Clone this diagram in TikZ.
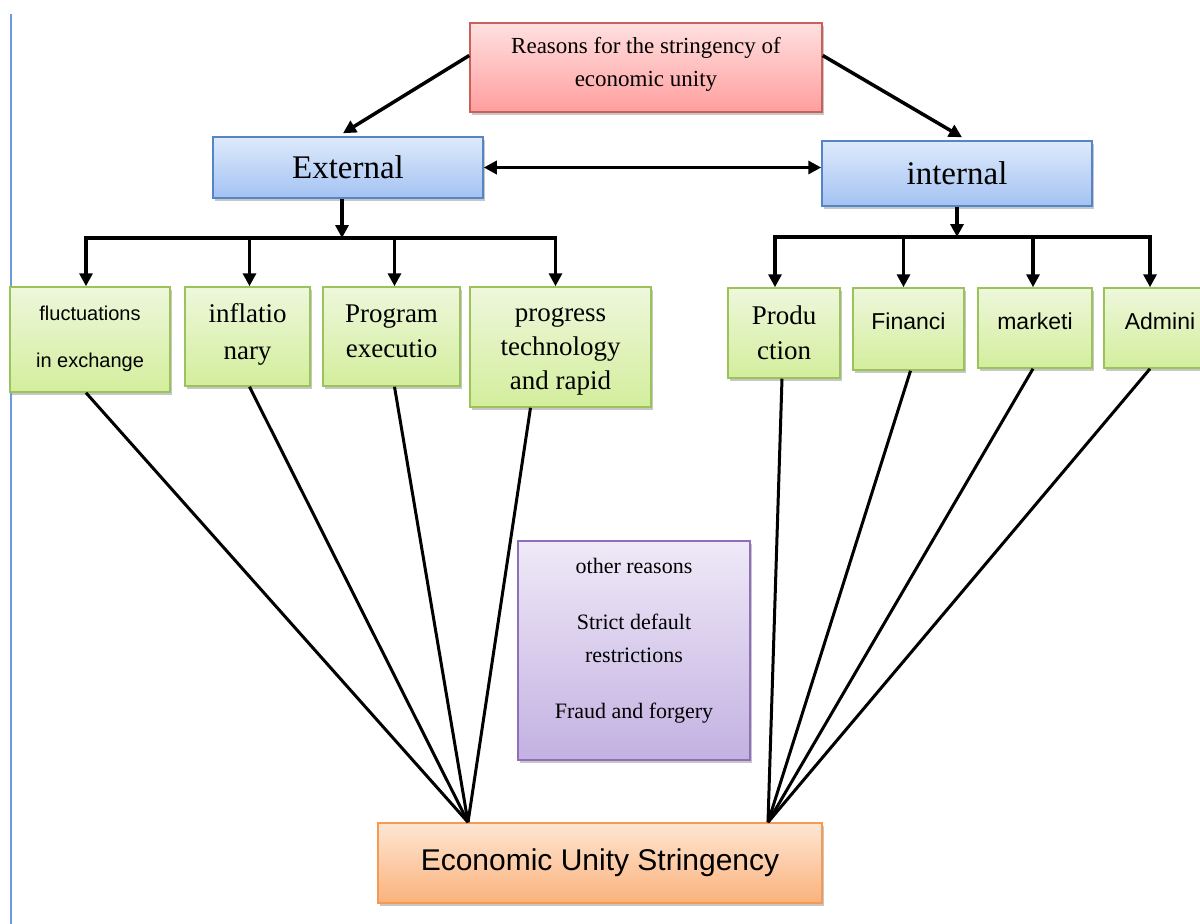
\documentclass[tikz,border=0pt]{standalone}
\usepackage{fontspec}
\setmainfont{Liberation Serif}
\setsansfont{Liberation Sans}
\usetikzlibrary{arrows.meta,shadows,calc}
\definecolor{redT}{HTML}{FFE0E0}\definecolor{redBt}{HTML}{FF9E9E}\definecolor{redD}{HTML}{C9605A}
\definecolor{bluT}{HTML}{DEEAFB}\definecolor{bluBt}{HTML}{A3C2F3}\definecolor{bluD}{HTML}{5585C7}
\definecolor{grnT}{HTML}{EEF7DC}\definecolor{grnBt}{HTML}{D3EE9C}\definecolor{grnD}{HTML}{9CC35A}
\definecolor{purT}{HTML}{EFE9F7}\definecolor{purBt}{HTML}{C3B1E2}\definecolor{purD}{HTML}{8E6FB8}
\definecolor{orT}{HTML}{FDE6D3}\definecolor{orBt}{HTML}{FBB27C}\definecolor{orD}{HTML}{F59A50}
\definecolor{leftblue}{HTML}{6D9BD9}
\newcommand{\tx}[2]{\raisebox{#1}[\height][\depth]{\begin{tabular}{@{}c@{}}#2\end{tabular}}}
\tikzset{
  box/.style={draw, line width=1.5pt, inner sep=0pt,
    drop shadow={shadow xshift=2pt,shadow yshift=-3pt,opacity=0.22,fill=black}},
  redbox/.style={box, draw=redD, top color=redT, bottom color=redBt},
  bluebox/.style={box, draw=bluD, top color=bluT, bottom color=bluBt},
  grnbox/.style={box, draw=grnD, top color=grnT, bottom color=grnBt},
  purbox/.style={box, draw=purD, top color=purT, bottom color=purBt},
  orbox/.style={box, draw=orD, top color=orT, bottom color=orBt},
  arr/.style={line width=3.5pt, -{Triangle[length=13pt,width=13pt]}},
  dblarr/.style={line width=3.5pt, {Triangle[length=13pt,width=13pt]}-{Triangle[length=13pt,width=13pt]}},
  bus/.style={line width=3.5pt, line cap=rect},
  conv/.style={line width=3pt},
}
\begin{document}
\begin{tikzpicture}[x=1pt,y=-1pt]
\useasboundingbox (0,0) rectangle (1200,924);
\fill[white] (0,0) rectangle (1200,924);
\draw[leftblue, line width=2pt] (11,14) -- (11,924);

% top
\node[redbox, minimum width=352pt, minimum height=89pt, font=\fontsize{23}{33}\selectfont] (top) at (646,67.5)
  {\tx{4pt}{Reasons for the stringency of\\economic unity}};
\node[bluebox, minimum width=270pt, minimum height=61pt, font=\fontsize{33}{40}\selectfont] (ext) at (348,167.5) {External};
\node[bluebox, minimum width=270pt, minimum height=65pt, font=\fontsize{33}{40}\selectfont] (int) at (957,173.5) {internal};

% left green boxes
\node[grnbox, minimum width=160pt, minimum height=105pt, font=\sffamily\fontsize{20}{47}\selectfont] (b1) at (90,339.5)
  {\tx{5pt}{fluctuations\\in exchange}};
\node[grnbox, minimum width=125pt, minimum height=99pt, font=\fontsize{27}{37}\selectfont] (b2) at (247.5,336.5)
  {\tx{3pt}{inflatio\\nary}};
\node[grnbox, minimum width=137pt, minimum height=99pt, font=\fontsize{27}{35}\selectfont] (b3) at (391.5,336.5)
  {\tx{4pt}{Program\\executio}};
\node[grnbox, minimum width=181pt, minimum height=120pt, font=\fontsize{27}{34}\selectfont] (b4) at (560.5,347)
  {\tx{-2pt}{progress\\technology\\and rapid}};

% right green boxes
\node[grnbox, minimum width=112pt, minimum height=90pt, font=\fontsize{27}{35}\selectfont] (r1) at (784,333)
  {\tx{-2pt}{Produ\\ction}};
\node[grnbox, minimum width=111pt, minimum height=82pt, font=\sffamily\fontsize{23}{26}\selectfont] (r2) at (908.5,329)
  {\tx{5pt}{Financi}};
\node[grnbox, minimum width=114pt, minimum height=80pt, font=\sffamily\fontsize{23}{26}\selectfont] (r3) at (1035,328)
  {\tx{4pt}{marketi}};
\node[grnbox, minimum width=112pt, minimum height=80pt, font=\sffamily\fontsize{23}{26}\selectfont] (r4) at (1160,328)
  {\tx{4pt}{Admini}};

% purple
\node[purbox, minimum width=232pt, minimum height=219pt, font=\fontsize{22}{33}\selectfont] (pur) at (634,650.5)
  {\tx{11pt}{other reasons\\[23pt]Strict default\\restrictions\\[23pt]Fraud and forgery}};

% bottom
\node[orbox, minimum width=444pt, minimum height=80pt, font=\sffamily\fontsize{30}{35}\selectfont] (econ) at (600,863)
  {Economic Unity Stringency};

% connectors top
\draw[arr] ([yshift=12pt]top.west) -- ([xshift=-5pt,yshift=3pt]ext.north);
\draw[arr] ([yshift=12pt]top.east) -- ([xshift=5pt,yshift=3pt]int.north);
\draw[dblarr] (ext.east) -- (ext.east -| int.west);

% buses
\coordinate (busL) at (0,238);
\coordinate (busR) at (0,237);
\draw[arr] ([xshift=-6pt]ext.south) -- ([xshift=-6pt]ext.south |- busL);
\draw[bus] ([xshift=-4pt]b1.north |- busL) -- ([xshift=-5pt]b4.north |- busL);
\draw[arr] ([xshift=-4pt]b1.north |- busL) -- ([xshift=-4pt]b1.north);
\draw[arr] ([xshift=2pt]b2.north |- busL) -- ([xshift=2pt]b2.north);
\draw[arr] ([xshift=3pt]b3.north |- busL) -- ([xshift=3pt]b3.north);
\draw[arr] ([xshift=-5pt]b4.north |- busL) -- ([xshift=-5pt]b4.north);
\draw[arr] (int.south) -- (int.south |- busR);
\draw[bus] ([xshift=-9pt]r1.north |- busR) -- ([xshift=-10pt]r4.north |- busR);
\draw[arr] ([xshift=-9pt]r1.north |- busR) -- ([xshift=-9pt]r1.north);
\draw[arr] ([xshift=-5pt]r2.north |- busR) -- ([xshift=-5pt]r2.north);
\draw[arr] ([xshift=-2pt]r3.north |- busR) -- ([xshift=-2pt]r3.north);
\draw[arr] ([xshift=-10pt]r4.north |- busR) -- ([xshift=-10pt]r4.north);

% converging lines
\coordinate (cL) at ([xshift=-132pt]econ.north);
\coordinate (cR) at ([xshift=168pt]econ.north);
\draw[conv] ([xshift=-4pt]b1.south) -- (cL);
\draw[conv] ([xshift=2pt]b2.south) -- (cL);
\draw[conv] ([xshift=3pt]b3.south) -- (cL);
\draw[conv] ([xshift=-30pt]b4.south) -- (cL);
\draw[conv] ([xshift=-2pt]r1.south) -- (cR);
\draw[conv] ([xshift=2pt]r2.south) -- (cR);
\draw[conv] ([xshift=-2pt]r3.south) -- (cR);
\draw[conv] ([xshift=-10pt]r4.south) -- (cR);
\end{tikzpicture}
\end{document}
